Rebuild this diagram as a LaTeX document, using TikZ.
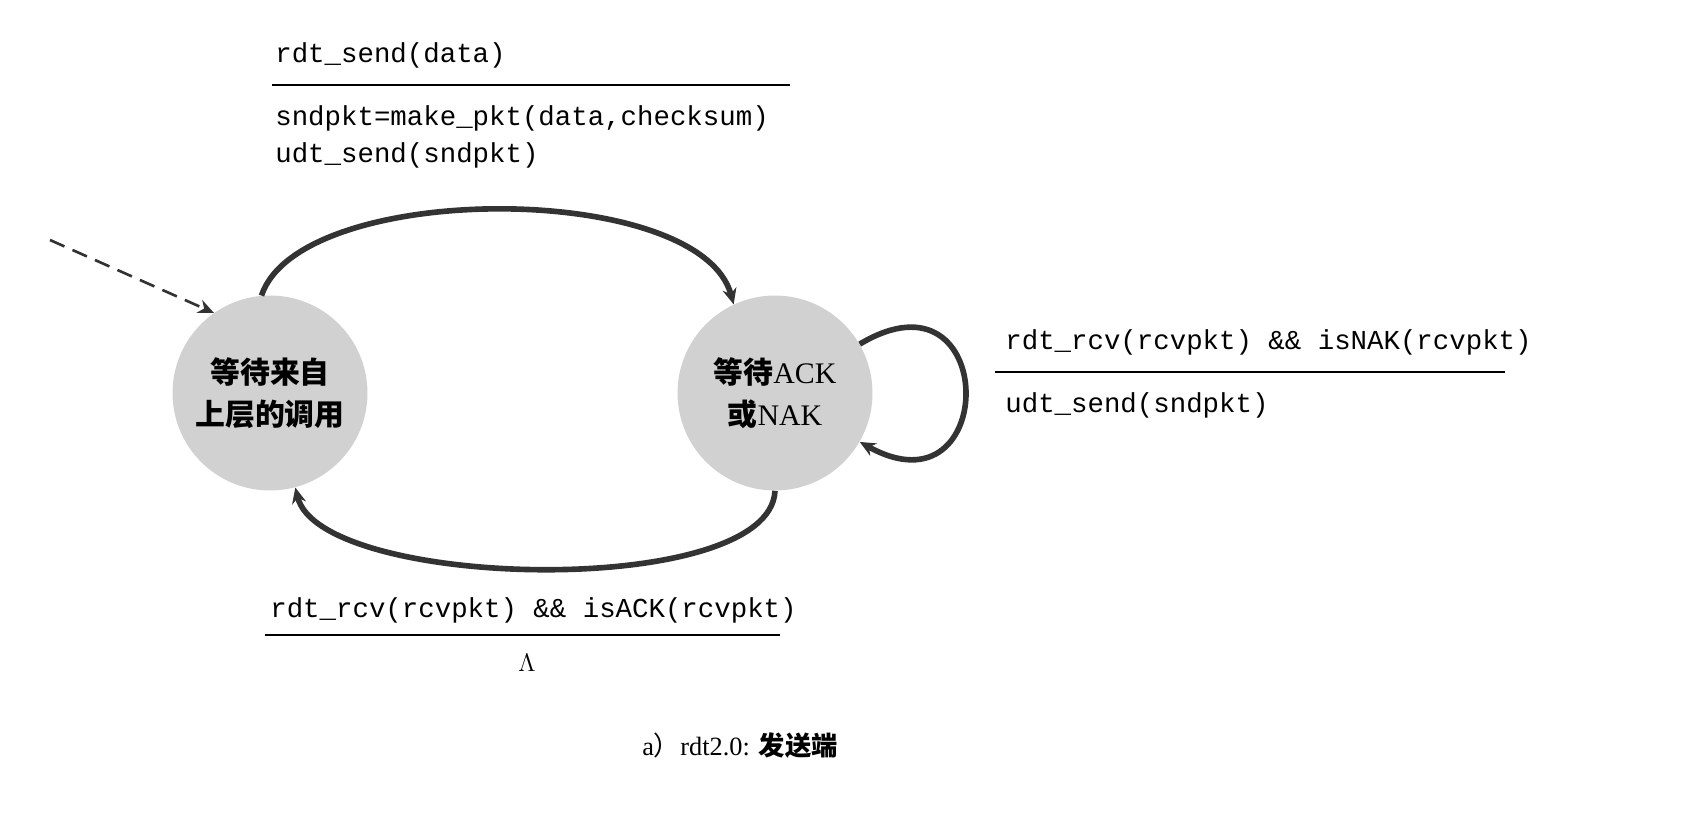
\documentclass[tikz,border=0pt]{standalone}
\usepackage{fontspec}
\setmonofont{Liberation Mono}
\setmainfont{Liberation Serif}
\newfontfamily\cjk{Noto Sans CJK SC}
\usetikzlibrary{arrows,arrows.meta,positioning}
\tikzset{state/.style={circle,fill=black!18,draw=none,minimum size=3.9cm,inner sep=0pt,align=center,font=\cjk\bfseries\fontsize{17}{24}\selectfont},}
\tikzset{lbl/.style={anchor=west,inner sep=0pt,font=\ttfamily\fontsize{15.6}{18}\selectfont}}
\tikzstyle{arrow} = [line width=3.2pt,draw=black!80,->,>={Stealth[length=9pt,width=8pt]}]

\begin{document}
\begin{tikzpicture}[x=0.02cm,y=-0.02cm]
    \useasboundingbox (0,0) rectangle (1692,822);
    \node[state] (1) at (270,393) {等待来自\\上层的调用};
    \node[state] (2) at (775,393) {等待{\rmfamily\mdseries ACK}\\或{\rmfamily\mdseries NAK}};
    \coordinate (0) at (50,240);

    \node[lbl] (3) at (275,55) {rdt\_send(data)};
    \node[lbl] (4) at (275,118) {sndpkt=make\_pkt(data,checksum)};
    \node[lbl] (5) at (275,155) {udt\_send(sndpkt)};
    \node[lbl] (6) at (1005,342) {rdt\_rcv(rcvpkt) \&\& isNAK(rcvpkt)};
    \node[lbl] (7) at (1005,405) {udt\_send(sndpkt)};
    \node[lbl] (8) at (270,610) {rdt\_rcv(rcvpkt) \&\& isACK(rcvpkt)};
    \node (9) at (527,663) {\fontsize{15}{18}\selectfont$\Lambda$};
    \node (10) at (740,745) {\fontsize{15}{18}\selectfont a{\cjk ）}rdt2.0: {\cjk\bfseries 发送端}};

    \draw[thick] (272,85) -- (790,85);
    \draw[thick] (995,372) -- (1505,372);
    \draw[thick] (265,635) -- (780,635);

    \draw [arrow,dash pattern=on 9pt off 5pt,line width=1.5pt] (0) -- (1.125);
    \draw [arrow] (1.95) .. controls (300,180) and (700,180) .. (2.115);
    \draw [arrow] (2.270) .. controls (770,600) and (320,590) .. (1.285);
    \draw [arrow] (2.30) .. controls (1000,260) and (1000,520) .. (2.330);
\end{tikzpicture}
\end{document}
